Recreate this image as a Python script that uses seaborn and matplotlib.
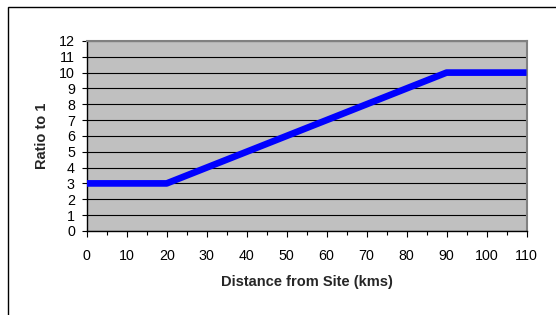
import matplotlib
matplotlib.use("Agg")
import matplotlib.pyplot as plt
import seaborn as sns
import pandas as pd
from matplotlib.patches import Rectangle
from matplotlib.ticker import MultipleLocator

# chart data
distance_kms = [0, 10, 20, 30, 40, 50, 60, 70, 80, 90, 100, 110]
ratio_to_1 = [3, 3, 3, 4, 5, 6, 7, 8, 9, 10, 10, 10]

df = pd.DataFrame({"distance": distance_kms, "ratio": ratio_to_1})

sns.set_theme(style="white")
plt.rcParams["font.family"] = ["Liberation Sans", "DejaVu Sans"]

fig = plt.figure(figsize=(5.56, 3.15), dpi=100)
ax = fig.add_axes([0.156, 0.267, 0.791, 0.603])

sns.lineplot(data=df, x="distance", y="ratio", ax=ax, color="#0000FF",
             linewidth=4.8, solid_capstyle="butt", zorder=3)

ax.set_facecolor("#C0C0C0")
ax.set_xlim(0, 110)
ax.set_ylim(0, 12)
ax.xaxis.set_major_locator(MultipleLocator(10))
ax.xaxis.set_minor_locator(MultipleLocator(5))
ax.yaxis.set_major_locator(MultipleLocator(1))
ax.grid(axis="y", color="black", linewidth=0.8)
ax.grid(axis="x", visible=False)

ax.tick_params(axis="both", which="both", direction="out", color="black",
               labelsize=10.3, labelcolor="black")
ax.tick_params(axis="x", which="major", length=4, width=0.8, bottom=True, pad=9)
ax.tick_params(axis="x", which="minor", length=3, width=0.8, bottom=True)
ax.tick_params(axis="y", which="major", length=3.5, width=0.8, left=True, pad=5)

for side in ["left", "bottom"]:
    ax.spines[side].set_color("black")
    ax.spines[side].set_linewidth(1)
for side in ["top", "right"]:
    ax.spines[side].set_color("#808080")
    ax.spines[side].set_linewidth(1.5)

ax.set_xlabel("Distance from Site (kms)", fontsize=10.5, fontweight="bold",
              labelpad=9)
ax.set_ylabel("Ratio to 1", fontsize=10.5, fontweight="bold", labelpad=7)

# outer chart border
fig.patches.append(Rectangle((7.5 / 556, -0.05), 1.1, 1 - 6.5 / 315 + 0.05,
                             transform=fig.transFigure, fill=False,
                             edgecolor="black", linewidth=1))

fig.savefig("out.png", dpi=100, facecolor="white")
